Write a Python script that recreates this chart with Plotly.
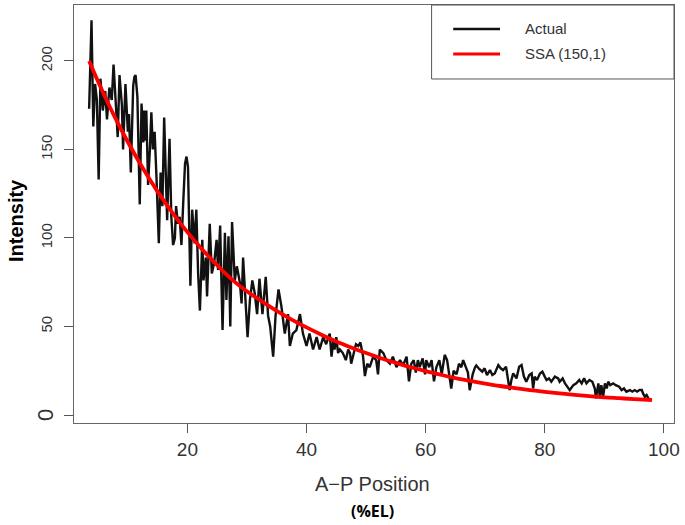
import plotly.graph_objects as go

# measured profile (black, noisy)
pos_actual = [
    3.5, 3.9, 4.2, 4.5, 4.8, 5.1, 5.4, 5.8, 6.2, 6.5, 6.9, 7.3, 7.6, 8.0, 8.3, 8.6,
    9.0, 9.2, 9.6, 10.0, 10.2, 10.5, 10.9, 11.1, 11.3, 11.6, 12.0, 12.3, 12.6, 12.7,
    13.0, 13.1, 13.4, 13.7, 13.95, 14.2, 14.5, 14.8, 15.2, 15.5, 15.8, 16.1, 16.4,
    16.6, 17.0, 17.3, 17.6, 17.9, 18.1, 18.4, 18.7, 19.0, 19.3, 19.6, 19.85, 20.1,
    20.5, 20.8, 21.2, 21.5, 21.8, 22.1, 22.5, 22.7, 23.1, 23.3, 23.75, 24.1, 24.5,
    24.9, 25.15, 25.5, 25.9, 26.3, 26.55, 26.9, 27.2, 27.5, 27.95, 28.3, 28.8, 29.1,
    29.35, 29.8, 30.1, 30.5, 30.9, 31.3, 31.7, 32.1, 32.6, 33.15, 33.55, 33.9, 34.4,
    34.8, 35.3, 35.8, 36.35, 36.9, 37.2, 37.7, 38.3, 38.9, 39.4, 40.0, 40.5, 41.1,
    41.7, 42.2, 42.8, 43.3, 43.9, 44.2, 44.5, 44.7, 45.0, 45.3, 45.6, 46.1, 46.6,
    47.0, 47.3, 47.5, 47.9, 48.3, 48.7, 49.05, 49.5, 49.8, 50.2, 50.6, 51.2, 51.7,
    52.0, 52.3, 52.9, 53.4, 54.0, 54.5, 55.1, 55.7, 56.2, 56.8, 57.2, 57.6, 58.0,
    58.35, 58.7, 59.0, 59.5, 59.9, 60.1, 60.6, 61.0, 61.4, 61.8, 62.3, 62.7, 63.2,
    63.6, 63.95, 64.3, 64.7, 65.2, 65.6, 66.0, 66.3, 66.75, 67.1, 67.4, 67.9, 68.3,
    68.5, 69.0, 69.5, 69.9, 70.3, 70.8, 71.2, 71.6, 72.2, 72.6, 73.0, 73.5, 73.9,
    74.1, 74.4, 74.7, 75.25, 75.7, 76.1, 76.5, 76.9, 77.4, 77.8, 78.05, 78.3, 78.7,
    79.2, 79.6, 80.0, 80.3, 80.7, 81.1, 81.7, 82.25, 82.5, 83.0, 83.4, 83.8, 84.2,
    84.8, 85.3, 85.8, 86.2, 86.6, 87.0, 87.5, 88.0, 88.4, 88.6, 89.0, 89.25, 89.5,
    89.8, 90.1, 90.4, 90.65, 91.0, 91.5, 91.9, 92.5, 92.9, 93.3, 93.7, 94.3, 94.7,
    95.1, 95.5, 95.9, 96.3, 96.5, 96.8, 97.1, 97.4,
]
intensity_actual = [
    173, 223, 163, 187, 178, 133, 190, 172, 183, 167, 185, 178, 198, 178, 157, 192,
    175, 150, 187, 160, 170, 137, 186, 191, 192, 180, 119, 176, 154, 172,
    155, 172, 130, 150, 171, 150, 160, 135, 97, 137, 118, 168, 130,
    110, 156, 112, 96, 100, 118, 108, 112, 96, 120, 142, 146, 140,
    73, 116, 97, 116, 80, 59, 99, 76, 89, 67, 108, 80, 86,
    99, 82, 107, 48, 103, 65, 101, 50, 109, 76, 84, 75, 63,
    89, 65, 44, 65, 76, 69, 57, 77, 57, 78, 56, 50, 33,
    56, 71, 61, 46, 57, 39, 46, 48, 57, 46, 39, 46, 37,
    44, 37, 44, 40, 46, 33, 42, 37, 44, 35, 37, 35, 31,
    37, 35, 29, 35, 40, 39, 41, 33, 22, 29, 27, 33, 31,
    23, 37, 35, 31, 29, 33, 27, 31, 28, 33, 19, 29, 31,
    24, 31, 27, 32, 23, 31, 27, 31, 19, 27, 31, 23, 34,
    31, 22, 15, 25, 23, 29, 27, 31, 27, 24, 14, 23, 27,
    28, 26, 24.5, 26.4, 22.6, 25.4, 22.6, 23.5, 28.2, 26.4, 25.4, 27.3, 18.8,
    14.1, 19.8, 23.5, 20.7, 27.3, 28.2, 21.7, 18.8, 22.6, 23.5, 15.0, 21.7, 19.8,
    23.5, 24.5, 21.7, 19.8, 20.7, 18.8, 21.7, 20.7, 18.8, 20.7, 17.9, 16.0, 14.1,
    16.9, 17.9, 19.8, 17.9, 20.7, 17.9, 19.8, 18.8, 15.0, 9.4, 17.9, 10.3, 16.9,
    10.3, 17.9, 15.0, 18.8, 16.9, 17.9, 16.9, 16.0, 14.1, 15.0, 13.2, 14.1, 13.2,
    14.1, 13.2, 14.1, 14.1, 12.2, 10.3, 11.3, 9.4,
]

# SSA (150,1) reconstruction (red, smooth)
pos_ssa = [
    3.5, 5, 7.5, 10, 12.5, 15, 17.5, 20, 22.5, 25, 27.5, 30, 32.5, 35, 37.5, 40,
    42.5, 45, 47.5, 50, 52.5, 55, 57.5, 60, 62.5, 65, 67.5, 70, 72.5, 75, 77.5,
    80, 82.5, 85, 87.5, 90, 92.5, 95, 98,
]
intensity_ssa = [
    200, 188.4, 170.4, 154.2, 139.5, 126.2, 114.2, 103.3, 93.5, 84.6, 76.5, 69.9,
    64.2, 58.8, 53.9, 49.5, 45.4, 41.6, 38.2, 35.0, 32.1, 29.5, 27.0, 24.8, 22.8,
    20.9, 19.3, 17.8, 16.4, 15.2, 14.1, 13.1, 12.2, 11.4, 10.7, 10.0, 9.5, 9.0, 8.5,
]

x_ticks = [20, 40, 60, 80, 100]
y_ticks = [0, 50, 100, 150, 200]

fig = go.Figure()
fig.add_trace(go.Scatter(x=pos_actual, y=intensity_actual, name='Actual', mode='lines',
                         line=dict(color='#111111', width=2.4)))
fig.add_trace(go.Scatter(x=pos_ssa, y=intensity_ssa, name='SSA (150,1)', mode='lines',
                         line=dict(color='#ff0000', width=3.8, shape='spline')))

tick_font = dict(family='Liberation Sans, Arial, sans-serif', color='#333333')

fig.update_layout(
    width=685, height=525,
    margin=dict(l=74, r=11, t=5, b=102),
    paper_bgcolor='white', plot_bgcolor='white',
    showlegend=False,
    xaxis=dict(range=[0.96, 101.7], tickvals=x_ticks, ticks='outside', ticklen=9,
               tickcolor='#555555', showline=True, mirror=True, linecolor='#666666',
               linewidth=1, showgrid=False, zeroline=False,
               tickfont=dict(size=19, **tick_font)),
    yaxis=dict(range=[-4.5, 231.6], tickvals=y_ticks,
               ticktext=['', '50', '100', '150', '200'], tickangle=-90,
               ticks='outside', ticklen=9, tickcolor='#555555', showline=True,
               mirror=True, linecolor='#666666', linewidth=1, showgrid=False,
               zeroline=False, ticklabelstandoff=6,
               tickfont=dict(size=15, **tick_font)),
)

# R-style legend box
fig.add_shape(type='rect', xref='paper', yref='paper', x0=0.596, x1=1.0, y0=0.823, y1=1.0,
              line=dict(color='#555555', width=1), fillcolor='white')
fig.add_shape(type='line', xref='paper', yref='paper', x0=0.632, x1=0.71, y0=0.9426, y1=0.9426,
              line=dict(color='#111111', width=2.4))
fig.add_shape(type='line', xref='paper', yref='paper', x0=0.632, x1=0.71, y0=0.8828, y1=0.8828,
              line=dict(color='#ff0000', width=3))

annos = [
    dict(text='Actual', x=0.748, y=0.9426, xanchor='left', yanchor='middle',
         font=dict(size=15, **tick_font)),
    dict(text='SSA (150,1)', x=0.748, y=0.8828, xanchor='left', yanchor='middle',
         font=dict(size=15, **tick_font)),
    dict(text='A\u2212P Position', x=0.498, y=-0.146, xanchor='center', yanchor='middle',
         font=dict(size=20, **tick_font)),
    dict(text='<b>(%EL)</b>', x=0.498, y=-0.211, xanchor='center', yanchor='middle',
         font=dict(size=16, family='Open Sans, sans-serif', color='black')),
    dict(text='<b>Intensity</b>', x=-0.0967, y=0.4856, xanchor='center', yanchor='middle',
         textangle=-90, font=dict(size=20, family='Liberation Sans, Arial, sans-serif',
                                  color='black')),
]
for a in annos:
    fig.add_annotation(xref='paper', yref='paper', showarrow=False, **a)
fig.add_annotation(text='0', xref='paper', yref='y', x=-0.0483, y=0, xanchor='center',
                   yanchor='middle', textangle=-90, showarrow=False,
                   font=dict(size=22, **tick_font))

# page has a default 8px body margin, drop it so the figure sits at the corner
fig.write_html('out.html', config={'displayModeBar': False},
               post_script="document.body.style.margin='0';")
